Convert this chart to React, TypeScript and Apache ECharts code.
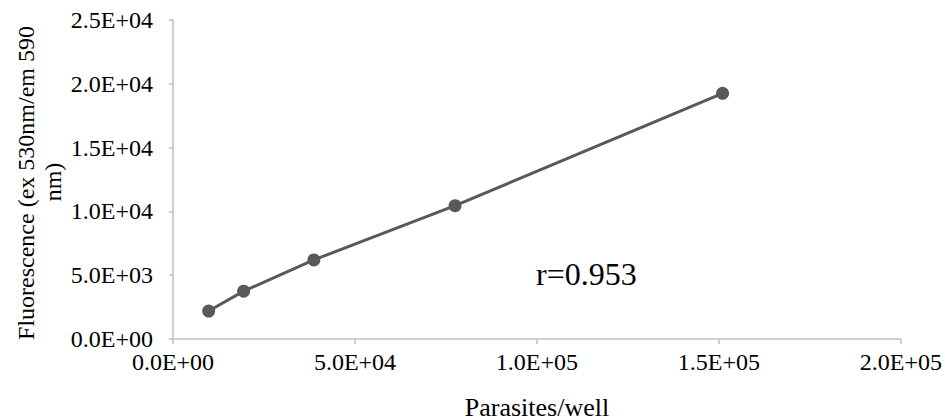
import React, { useEffect, useRef } from "react";
import * as echarts from "echarts";

const parasitesPerWell = [9800, 19400, 38700, 77500, 151000];
const fluorescence = [2190, 3750, 6200, 10450, 19250];
const xTitle = "Parasites/well";
const yTitleLines = ["Fluorescence (ex 530nm/em 590", "nm)"];
const annotation = "r=0.953";

const FONT = "'Liberation Serif', 'Times New Roman', serif";

function sci(v: number): string {
  const [m, e] = v.toExponential(1).split("e");
  const sign = e[0] === "-" ? "-" : "+";
  const digits = e.replace(/^[+-]/, "").padStart(2, "0");
  return `${m}E${sign}${digits}`;
}

export default function App() {
  const ref = useRef<HTMLDivElement>(null);
  useEffect(() => {
    if (!ref.current) return;
    const chart = echarts.init(ref.current, undefined, { renderer: "svg" });
    const axisColor = "#bfbfbf";
    chart.setOption({
      animation: false,
      backgroundColor: "#ffffff",
      grid: { left: 173, right: 42, top: 20, bottom: 81, containLabel: false },
      xAxis: {
        type: "value",
        min: 0,
        max: 200000,
        interval: 50000,
        splitLine: { show: false },
        axisLine: { show: true, lineStyle: { color: axisColor, width: 1.5 } },
        axisTick: { show: true, length: 5, lineStyle: { color: axisColor, width: 1.5 } },
        axisLabel: {
          formatter: (v: number) => sci(v),
          color: "#000",
          fontFamily: FONT,
          fontSize: 24,
          margin: 11,
        },
      },
      yAxis: {
        type: "value",
        min: 0,
        max: 25000,
        interval: 5000,
        splitLine: { show: false },
        axisLine: { show: true, lineStyle: { color: axisColor, width: 1.5 } },
        axisTick: { show: true, length: 4, lineStyle: { color: axisColor, width: 1.5 } },
        axisLabel: {
          formatter: (v: number) => sci(v),
          color: "#000",
          fontFamily: FONT,
          fontSize: 24,
          margin: 20,
        },
      },
      series: [
        {
          type: "line",
          data: parasitesPerWell.map((x, i) => [x, fluorescence[i]]),
          symbol: "circle",
          symbolSize: 13,
          lineStyle: { color: "#595959", width: 3 },
          itemStyle: { color: "#595959" },
        },
      ],
      graphic: [
        {
          type: "text",
          left: 536,
          top: 258,
          style: { text: annotation, fontFamily: FONT, fontSize: 32, fill: "#000" },
        },
        {
          type: "text",
          x: 537,
          y: 407,
          style: {
            text: xTitle,
            fontFamily: FONT,
            fontSize: 26,
            fill: "#000",
            align: "center",
            verticalAlign: "middle",
          },
        },
        {
          type: "text",
          x: 26,
          y: 183,
          rotation: Math.PI / 2,
          style: {
            text: yTitleLines[0],
            fontFamily: FONT,
            fontSize: 24,
            fill: "#000",
            align: "center",
            verticalAlign: "middle",
          },
        },
        {
          type: "text",
          x: 53,
          y: 182,
          rotation: Math.PI / 2,
          style: {
            text: yTitleLines[1],
            fontFamily: FONT,
            fontSize: 24,
            fill: "#000",
            align: "center",
            verticalAlign: "middle",
          },
        },
      ],
    });
    return () => chart.dispose();
  }, []);
  return (
    <div
      ref={ref}
      style={{ position: "fixed", left: 0, top: 0, width: 945, height: 420, background: "#fff" }}
    />
  );
}
